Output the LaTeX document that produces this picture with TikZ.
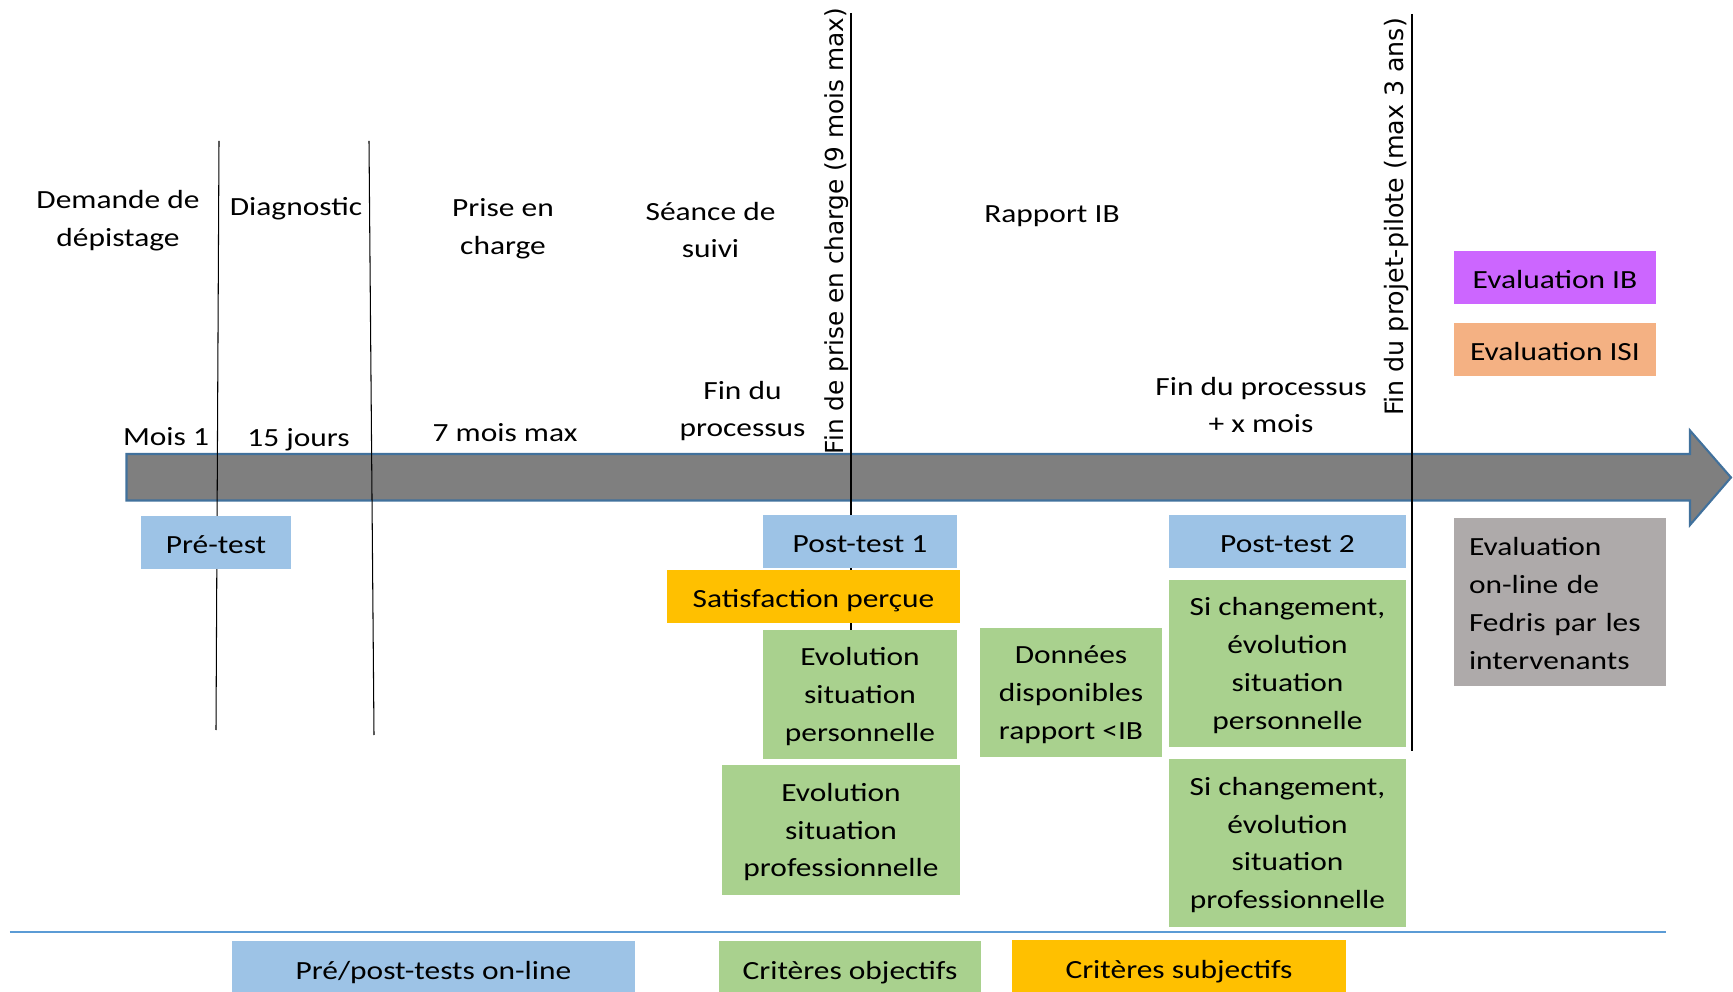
\documentclass[tikz,border=0pt]{standalone}
\usepackage{fontspec}
\setmainfont{Carlito}[FakeStretch=1.2]
\newfontfamily\rotfont{DejaVu Sans}
\usetikzlibrary{positioning}

\definecolor{testblue}{HTML}{9DC3E6}
\definecolor{objgreen}{HTML}{A9D18E}
\definecolor{subjorange}{HTML}{FFC000}
\definecolor{ibviolet}{HTML}{CC66FF}
\definecolor{isisalmon}{HTML}{F4B183}
\definecolor{fedgrey}{HTML}{AEAAAA}
\definecolor{bargrey}{HTML}{7F7F7F}
\definecolor{barline}{HTML}{41719C}
\definecolor{sepblue}{HTML}{5B9BD5}

\begin{document}
\begin{tikzpicture}[font=\fontsize{14.9}{21.5}\selectfont,
    box/.style={inner sep=0pt, minimum height=1.06cm, align=center,
      execute at begin node={\rule[-4pt]{0pt}{20.1pt}},
      execute at end node={\rule[-4pt]{0pt}{4pt}}},
    testbox/.style={box, fill=testblue},
    objbox/.style={box, fill=objgreen},
    subjbox/.style={box, fill=subjorange},
    stackbox/.style={objbox, text depth=-1.5pt},
    marker/.style={line width=0.6pt},
    vlabel/.style={rotate=90, anchor=south, inner sep=0pt, font=\rotfont\fontsize{14.1}{17}\selectfont}]

    \useasboundingbox (0,0) rectangle (34.66,19.82);

    % Time line arrow
    \path[draw=barline, line width=1.2pt, fill=bargrey] (2.53,9.81) -- (33.8,9.81)
    -- (33.8,9.32) -- (34.62,10.27) -- (33.8,11.21) -- (33.8,10.74) -- (2.53,10.74) -- cycle;

    % Milestone line(s)
    \draw[marker] (4.38,17.0) -- (4.32,5.22);
    \draw[marker] (7.38,17.0) -- (7.48,5.12);
    \draw[marker] (17.02,19.56) -- (17.02,6.0);
    \draw[marker] (28.24,19.54) -- (28.24,4.8);

    % Phase label(s)
    \node[align=center] (demande) at (2.36,15.41) {Demande de\\dépistage};
    \node (diagnostic) at (5.92,15.64) {Diagnostic};
    \node[align=center] (prise) at (10.06,15.24) {Prise en\\charge};
    \node[align=center] (seance) at (14.21,15.22) {Séance de\\suivi};
    \node (rapport) at (21.04,15.49) {Rapport IB};
    \node[align=center] (finproc) at (14.85,11.6) {Fin du\\processus};
    \node[align=center] (finprocx) at (25.22,11.72) {Fin du processus\\+ x mois};

    % Duration label(s)
    \node (mois) at (3.32,11.08) {Mois 1};
    \node (jours) at (5.97,11.02) {15 jours};
    \node (septmois) at (10.1,11.17) {7 mois max};

    % Vertical label(s)
    \node[vlabel] (finprise) at (16.97,15.2) {Fin de prise en charge (9 mois max)};
    \node[vlabel, font=\rotfont\fontsize{14.4}{17}\selectfont] (finprojet) at (28.19,15.48)
    {Fin du projet-pilote (max 3 ans)};

    % Measure box(es)
    \node[testbox, minimum width=3.0cm] (pretest) at (4.32,8.97) {Pré-test};
    \node[testbox, minimum width=3.88cm] (posttest1) at (17.2,8.99) {Post-test 1};
    \node[subjbox, minimum width=5.86cm] (satisf) at (16.27,7.89) {Satisfaction perçue};
    \node[stackbox, minimum width=3.88cm, minimum height=2.58cm] (evolperso) at (17.2,5.93)
    {Evolution\\situation\\personnelle};
    \node[stackbox, minimum width=4.76cm, minimum height=2.6cm] (evolpro) at (16.82,3.22)
    {Evolution\\situation\\professionnelle};
    \node[stackbox, minimum width=3.64cm, minimum height=2.58cm] (donnees) at (21.42,5.97)
    {Données\\disponibles\\rapport <IB};
    \node[testbox, minimum width=4.74cm] (posttest2) at (25.75,8.99) {Post-test 2};
    \node[stackbox, minimum width=4.74cm, minimum height=3.34cm] (sichperso) at (25.75,6.55)
    {Si changement,\\évolution\\situation\\personnelle};
    \node[stackbox, minimum width=4.74cm, minimum height=3.36cm] (sichpro) at (25.75,2.96)
    {Si changement,\\évolution\\situation\\professionnelle};

    % Evaluation box(es)
    \node[box, fill=ibviolet, minimum width=4.04cm] (evalib) at (31.1,14.27) {Evaluation IB};
    \node[box, fill=isisalmon, minimum width=4.04cm] (evalisi) at (31.1,12.83) {Evaluation ISI};
    \node[box, fill=fedgrey, minimum width=4.24cm, minimum height=3.36cm, text width=3.64cm,
    align=left] (fedris) at (31.2,7.78) {Evaluation\\on-line de\\Fedris par les\\intervenants};

    % Legend
    \draw[sepblue, line width=1.2pt] (0.2,1.18) -- (33.32,1.18);
    \node[testbox, minimum width=8.06cm, minimum height=1.12cm] (legtests) at (8.67,0.44)
    {Pré/post-tests on-line};
    \node[objbox, minimum width=5.24cm, minimum height=1.12cm] (legobj) at (17.0,0.44)
    {Critères objectifs};
    \node[subjbox, minimum width=6.68cm, minimum height=1.14cm] (legsubj) at (23.58,0.46)
    {Critères subjectifs};

\end{tikzpicture}
\end{document}
